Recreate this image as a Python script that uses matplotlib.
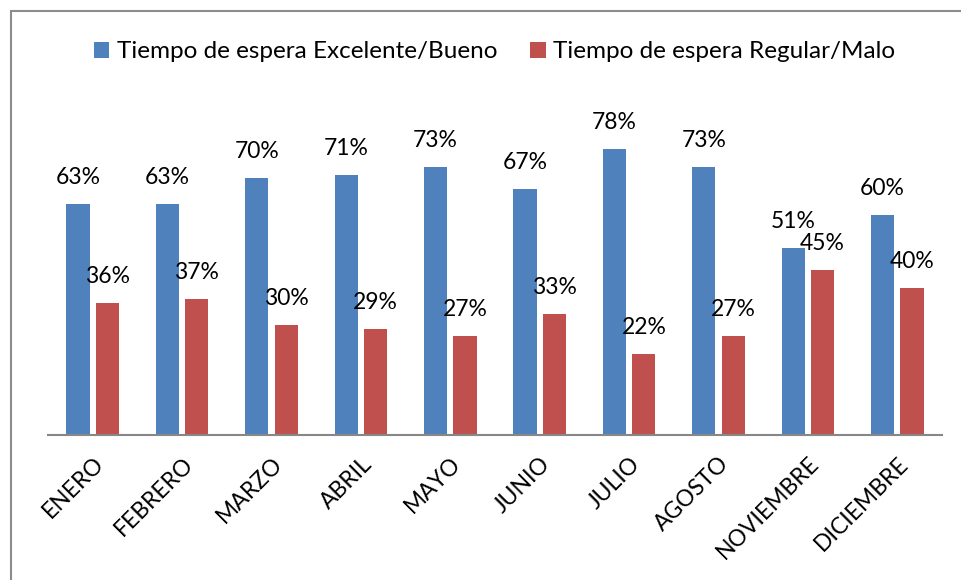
import matplotlib.pyplot as plt
import numpy as np
from matplotlib.patches import Rectangle

meses = ['ENERO', 'FEBRERO', 'MARZO', 'ABRIL', 'MAYO', 'JUNIO', 'JULIO',
         'AGOSTO', 'NOVIEMBRE', 'DICIEMBRE']
bueno = [63, 63, 70, 71, 73, 67, 78, 73, 51, 60]
malo = [36, 37, 30, 29, 27, 33, 22, 27, 45, 40]

azul = '#4F81BD'
rojo = '#C0504D'

plt.rcParams['font.family'] = ['Lato', 'DejaVu Sans']

W, H = 961, 580
fig = plt.figure(figsize=(W / 100, H / 100), dpi=100)

# marco gris de la figura
fig.patches.append(Rectangle((11 / W, -0.01), 1.02, 1 - 11 / H + 0.01,
                             transform=fig.transFigure, fill=False,
                             edgecolor='#8C8C8C', linewidth=1.5))

ax = fig.add_axes([48 / W, 1 - 435 / H, 894 / W, 330 / H])
x = np.arange(len(meses))
ancho = 0.26
sep = 0.165
b1 = ax.bar(x - sep, bueno, ancho, color=azul, label='Tiempo de espera Excelente/Bueno')
b2 = ax.bar(x + sep, malo, ancho, color=rojo, label='Tiempo de espera Regular/Malo')

for barras, vals in ((b1, bueno), (b2, malo)):
    for r, v in zip(barras, vals):
        ax.annotate(f'{v}%', (r.get_x() + r.get_width() / 2, v),
                    xytext=(0, 19), textcoords='offset points',
                    ha='center', va='center', fontsize=16.5)

ax.set_xlim(-0.5, len(meses) - 0.5)
ax.set_ylim(0, 90)
ax.set_yticks([])
ax.set_xticks(x)
ax.set_xticklabels(meses, rotation=45, ha='right', rotation_mode='anchor', fontsize=16.5)
ax.tick_params(axis='x', length=0, pad=13)
for s in ['top', 'right', 'left']:
    ax.spines[s].set_visible(False)
ax.spines['bottom'].set_color('#878787')
ax.spines['bottom'].set_linewidth(1.5)

fig.legend(loc='center', bbox_to_anchor=(0.5 + 14 / W, 1 - 52 / H), ncol=2, frameon=False,
           fontsize=17.5, handlelength=0.65, handleheight=0.65, handletextpad=0.3,
           columnspacing=1.35)

fig.savefig('out.png', dpi=100)
